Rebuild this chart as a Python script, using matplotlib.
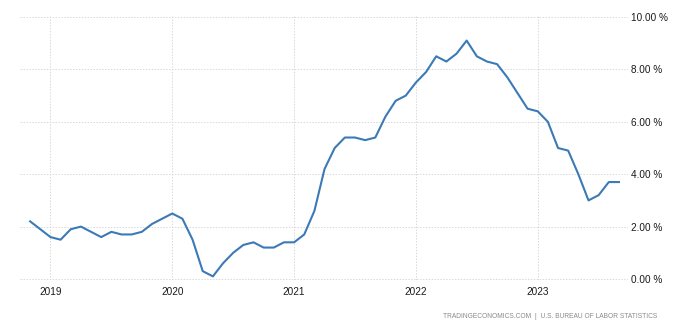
import matplotlib
matplotlib.use("Agg")
import matplotlib.pyplot as plt
import numpy as np

# US CPI inflation rate, year-over-year, monthly from Nov 2018 to Sep 2023
start_year, start_month = 2018, 11
inflation = [
    2.2, 1.9,
    1.6, 1.5, 1.9, 2.0, 1.8, 1.6, 1.8, 1.7, 1.7, 1.8, 2.1, 2.3,
    2.5, 2.3, 1.5, 0.3, 0.1, 0.6, 1.0, 1.3, 1.4, 1.2, 1.2, 1.4,
    1.4, 1.7, 2.6, 4.2, 5.0, 5.4, 5.4, 5.3, 5.4, 6.2, 6.8, 7.0,
    7.5, 7.9, 8.5, 8.3, 8.6, 9.1, 8.5, 8.3, 8.2, 7.7, 7.1, 6.5,
    6.4, 6.0, 5.0, 4.9, 4.0, 3.0, 3.2, 3.7, 3.7,
]
year_ticks = [2019, 2020, 2021, 2022, 2023]
y_ticks = [0, 2, 4, 6, 8, 10]
source_text = "TRADINGECONOMICS.COM  |  U.S. BUREAU OF LABOR STATISTICS"

months = np.arange(len(inflation))
x = start_year + (start_month - 1 + months) / 12.0

W, H = 700, 329
fig = plt.figure(figsize=(W / 100, H / 100), dpi=100)

# axes box in pixels: x 20..628, y (0%) 279 .. (10%) 17
ymin, ymax = -0.05, 10.05
px_per_unit = (279 - 17) / 10.0
top_px = 17 - (ymax - 10) * px_per_unit
bot_px = 279 + (0 - ymin) * px_per_unit
ax = fig.add_axes([20 / W, 1 - bot_px / H, (628 - 20) / W, (bot_px - top_px) / H])

ax.plot(x, inflation, color="#3b7ab6", linewidth=1.5, solid_joinstyle="round")

ax.set_xlim(2018.75, 2023.741)
ax.set_ylim(ymin, ymax)

ax.set_xticks(year_ticks)
ax.set_xticklabels([str(y) for y in year_ticks])
ax.set_yticks(y_ticks)
ax.set_yticklabels([f"{v:.2f} %" for v in y_ticks])
ax.yaxis.tick_right()

font = "Liberation Sans"
for lbl in ax.get_xticklabels() + ax.get_yticklabels():
    lbl.set_fontfamily(font)
    lbl.set_fontsize(7.2)
    lbl.set_color("#1a1a1a")
ax.tick_params(axis="both", length=0)
ax.tick_params(axis="x", pad=5)
ax.tick_params(axis="y", pad=2)

for s in ax.spines.values():
    s.set_visible(False)

ax.grid(True, color="#d9d9d9", linestyle=(0, (1.5, 1.5)), linewidth=0.7)
ax.set_axisbelow(True)

fig.text(657 / W, 1 - 316 / H, source_text, ha="right", va="center",
         fontsize=4.8, color="#8a8a8a", family=font)

fig.savefig("out.png", dpi=100)
